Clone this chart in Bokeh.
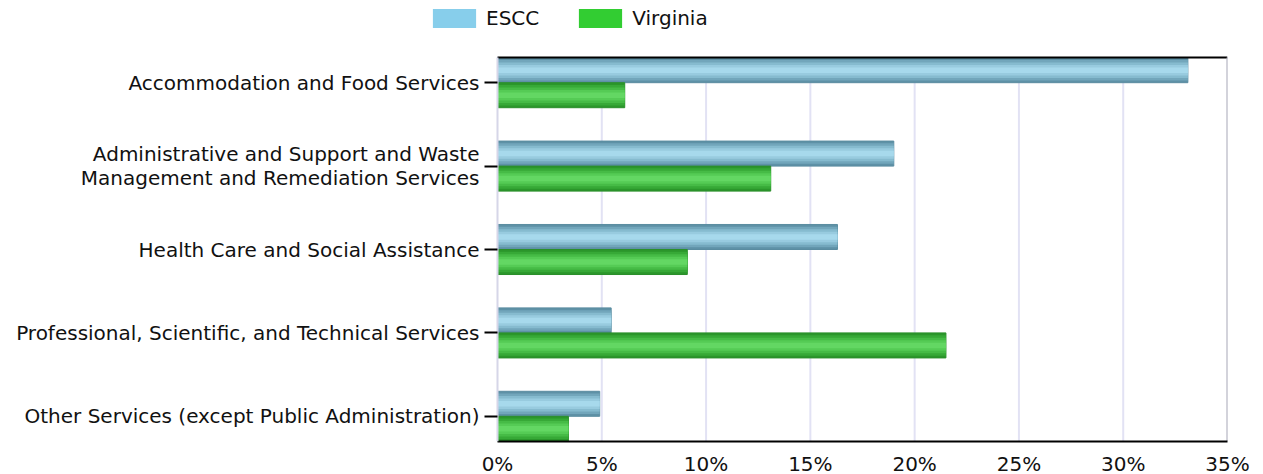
from bokeh.plotting import figure
from bokeh.models import Range1d, FixedTicker, PrintfTickFormatter, Legend, LegendItem, ColumnDataSource
from bokeh.embed import file_html
from bokeh.resources import INLINE

categories = [
    "Accommodation and Food Services",
    "Administrative and Support and Waste\nManagement and Remediation Services",
    "Health Care and Social Assistance",
    "Professional, Scientific, and Technical Services",
    "Other Services (except Public Administration)",
]
escc = [33.1, 19.0, 16.3, 5.45, 4.9]
virginia = [6.1, 13.1, 9.1, 21.5, 3.4]
series_names = ["ESCC", "Virginia"]
x_ticks = [0, 5, 10, 15, 20, 25, 30, 35]

FONT = "DejaVu Sans"
n = len(categories)
bar_h = 0.3
pad = 0.302

# layout in pixels
LEFT, PLOT_W, PLOT_H, TOP = 497, 730, 384, 57
xmax = x_ticks[-1]
ppx = PLOT_W / xmax                      # px per x unit
ppy = PLOT_H / (n - 1 + 2 * pad)          # px per y unit
x_start = -LEFT / ppx
y_top = -pad - TOP / ppy

p = figure(frame_width=LEFT + PLOT_W, frame_height=TOP + PLOT_H,
           min_border_left=0, min_border_top=0, min_border_right=34, min_border_bottom=33,
           x_range=Range1d(x_start, xmax), y_range=Range1d(n - 1 + pad, y_top),
           output_backend="svg", toolbar_location=None)
p.outline_line_color = None
p.background_fill_color = "white"
p.xgrid.visible = False
p.ygrid.visible = False

pos = list(range(n))

# vertical gridlines within the plot area
p.segment(x0=x_ticks[1:-1], x1=x_ticks[1:-1], y0=[-pad] * (len(x_ticks) - 2),
          y1=[n - 1 + pad] * (len(x_ticks) - 2), line_color="#e2e2f4", line_width=2)

src_e = ColumnDataSource(dict(y=[i - bar_h / 2 for i in pos], v=escc))
src_v = ColumnDataSource(dict(y=[i + bar_h / 2 for i in pos], v=virginia))

escc_layers = ["#5e91a6", "#72a6bb", "#86bbcf", "#98cbdf", "#a7d9ec"]
vir_layers = ["#2b962b", "#37a937", "#46bb46", "#55cb55", "#63d763"]
fracs = [1.0, 0.82, 0.62, 0.42, 0.22]

for col, f in zip(escc_layers, fracs):
    p.hbar(y="y", right="v", left=0, height=bar_h * f, source=src_e,
           fill_color=col, line_color="#5a8ca0" if f == 1.0 else None, line_width=1)
for col, f in zip(vir_layers, fracs):
    p.hbar(y="y", right="v", left=0, height=bar_h * f, source=src_v,
           fill_color=col, line_color="#2a8f2a" if f == 1.0 else None, line_width=1)

# frame border lines: top black, right grey
p.segment(x0=[0], x1=[xmax], y0=[-pad], y1=[-pad], line_color="black", line_width=2)
p.segment(x0=[xmax], x1=[xmax], y0=[-pad], y1=[n - 1 + pad], line_color="#a8a8b8", line_width=2)

# legend swatch renderers (zero-height, only used for the legend key colour)
le = p.hbar(y="y", right="v", left=0, height=0, source=src_e, fill_color="#87CEEB", line_color=None)
lv = p.hbar(y="y", right="v", left=0, height=0, source=src_v, fill_color="#32CD32", line_color=None)
legend = Legend(items=[LegendItem(label=series_names[0], renderers=[le]),
                       LegendItem(label=series_names[1], renderers=[lv])],
                orientation="horizontal", location=(427, TOP + PLOT_H - 30),
                glyph_width=54, glyph_height=24, label_standoff=5, spacing=34,
                padding=0, margin=0, border_line_color=None, background_fill_alpha=0,
                label_text_font=FONT, label_text_font_size="20px", label_text_color="#111111",
                label_height=24)
p.add_layout(legend, "center")

# x axis
p.xaxis.ticker = FixedTicker(ticks=x_ticks)
p.xaxis.bounds = (0, xmax)
p.xaxis.formatter = PrintfTickFormatter(format="%d%%")
p.xaxis.axis_line_color = "black"
p.xaxis.axis_line_width = 2
p.xaxis.major_tick_line_color = None
p.xaxis.minor_tick_line_color = None
p.xaxis.major_label_text_font = FONT
p.xaxis.major_label_text_font_size = "20px"
p.xaxis.major_label_text_color = "#111111"
p.xaxis.major_label_standoff = 4

# y axis, pinned at x = 0
p.yaxis.fixed_location = 0
p.yaxis.bounds = (-pad, n - 1 + pad)
p.yaxis.ticker = FixedTicker(ticks=pos)
p.yaxis.major_label_overrides = {i: c for i, c in zip(pos, categories)}
p.yaxis.axis_line_color = "#d6d6e8"
p.yaxis.axis_line_width = 2
p.yaxis.major_tick_line_color = "black"
p.yaxis.major_tick_line_width = 2
p.yaxis.major_tick_out = 13
p.yaxis.major_tick_in = 0
p.yaxis.minor_tick_line_color = None
p.yaxis.major_label_text_font = FONT
p.yaxis.major_label_text_font_size = "20px"
p.yaxis.major_label_text_line_height = 1.03
p.yaxis.major_label_text_color = "#111111"
p.yaxis.major_label_standoff = 5

open("out.html", "w").write(file_html(p, INLINE))
